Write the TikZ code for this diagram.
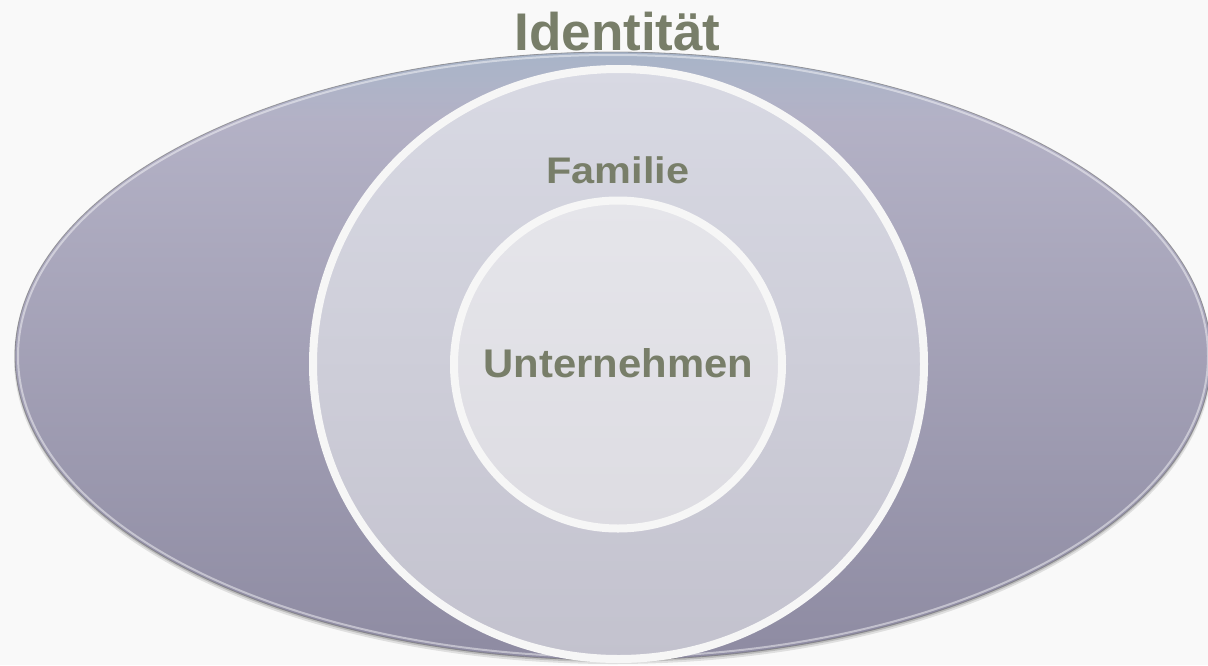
\documentclass[tikz,border=0pt]{standalone}
\usepackage{graphicx}
\usepackage{fontspec}
\setmainfont{Liberation Sans}
\usetikzlibrary{fadings}
\definecolor{paper}{RGB}{249,249,249}
\definecolor{labelolive}{RGB}{120,126,105}
\definecolor{ringwhite}{RGB}{246,246,246}
\definecolor{outerTop}{RGB}{184,182,202}
\definecolor{outerMid}{RGB}{170,168,190}
\definecolor{outerBot}{RGB}{142,139,162}
\definecolor{outerGlow}{RGB}{168,180,200}
\definecolor{midTop}{RGB}{216,217,227}
\definecolor{midBot}{RGB}{195,194,206}
\definecolor{innerTop}{RGB}{229,229,234}
\definecolor{innerBot}{RGB}{221,220,226}
\tikzfading[name=glowfade, top color=transparent!0, bottom color=transparent!100]
\tikzset{
  ringline/.style={draw=ringwhite, line width=8pt},
  lbl/.style={anchor=base, inner sep=0pt, text=labelolive, font=\bfseries},
}
\begin{document}
\begin{tikzpicture}[x=1pt,y=-1pt]
\useasboundingbox (0,0) rectangle (1208,665);
\fill[paper] (0,0) rectangle (1208,665);
\begin{scope}
\clip (0,0) rectangle (1208,665);
% soft shadow under the outer ellipse
\fill[black, opacity=0.10] (613,359) ellipse [x radius=599, y radius=305];
\fill[black, opacity=0.15] (613,358) ellipse [x radius=598, y radius=304];
% outer ellipse
\shade[top color=outerTop, middle color=outerMid, bottom color=outerBot]
  (613,356) ellipse [x radius=598, y radius=304];
% bluish glow along the upper rim
\begin{scope}
\clip (613,356) ellipse [x radius=598, y radius=304];
\fill[outerGlow, path fading=glowfade] (0,52) rectangle (1208,120);
\end{scope}
\draw[white, opacity=0.45, line width=2pt]
  (613,356) ellipse [x radius=595, y radius=301];
\draw[black!55, opacity=0.6, line width=0.8pt]
  (613,356) ellipse [x radius=598, y radius=304];
% middle circle
\draw[ringline, top color=midTop, bottom color=midBot]
  (618.5,364) ellipse [x radius=305.5, y radius=295];
% inner circle
\draw[ringline, top color=innerTop, bottom color=innerBot]
  (618,364.5) circle [radius=164];
\end{scope}
% labels
\node[lbl, font=\bfseries\fontsize{53}{60}\selectfont] (identity) at (617.5,50) {Identität};
\node[lbl, font=\bfseries\fontsize{37}{44}\selectfont] (family) at (618,183) {\scalebox{1.12}[1]{Familie}};
\node[lbl, font=\bfseries\fontsize{40}{46}\selectfont] (company) at (618.5,377) {\scalebox{1.045}[1]{Unternehmen}};
\end{tikzpicture}
\end{document}
